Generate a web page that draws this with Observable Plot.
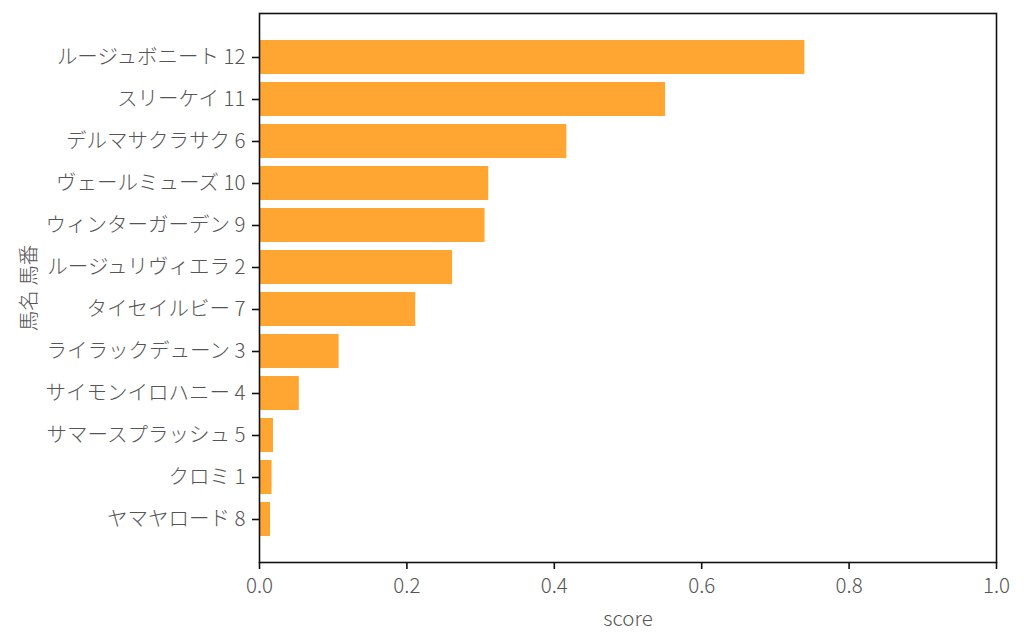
<!DOCTYPE html>
<html>
<head>
<meta charset="utf-8">
<script src="https://cdn.jsdelivr.net/npm/d3@7"></script>
<script src="https://cdn.jsdelivr.net/npm/@observablehq/plot@0.6"></script>
<style>
  html, body { margin: 0; padding: 0; background: #fff; }
  svg { display: block; }
</style>
</head>
<body>
<div id="chart"></div>
<script>
const horses = [
  "ルージュボニート 12",
  "スリーケイ 11",
  "デルマサクラサク 6",
  "ヴェールミューズ 10",
  "ウィンターガーデン 9",
  "ルージュリヴィエラ 2",
  "タイセイルビー 7",
  "ライラックデューン 3",
  "サイモンイロハニー 4",
  "サマースプラッシュ 5",
  "クロミ 1",
  "ヤマヤロード 8"
];
const scores = [0.740, 0.551, 0.417, 0.311, 0.306, 0.262, 0.212, 0.108, 0.054, 0.019, 0.017, 0.015];
const xTicks = [0, 0.2, 0.4, 0.6, 0.8, 1.0];

const data = horses.map((h, i) => ({horse: h, score: scores[i]}));

const chart = Plot.plot({
  width: 1024,
  height: 644,
  marginLeft: 259,
  marginRight: 28,
  marginTop: 13,
  marginBottom: 82,
  style: {
    fontFamily: "'Noto Sans CJK JP', 'Noto Sans', sans-serif",
    fontSize: "20.5px",
    fontWeight: 300,
    color: "#555",
    background: "#fff"
  },
  x: {domain: [0, 1]},
  y: {domain: horses, paddingInner: 0.2, paddingOuter: 0.59},
  marks: [
    Plot.barX(data, {x: "score", y: "horse", fill: "#ffa532"}),
    Plot.frame({stroke: "#111", strokeWidth: 1.6}),
    Plot.axisX({ticks: xTicks, tickFormat: d3.format(".1f"), tickSize: 7, tickPadding: 9, stroke: "#111", strokeWidth: 1.6, label: "score", labelAnchor: "center", labelArrow: "none", labelOffset: 63}),
    Plot.axisY({tickSize: 7, tickPadding: 7, stroke: "#111", strokeWidth: 1.6, label: "馬名 馬番", labelAnchor: "center", labelArrow: "none", labelOffset: 238})
  ]
});
document.getElementById("chart").appendChild(chart);
</script>
</body>
</html>
